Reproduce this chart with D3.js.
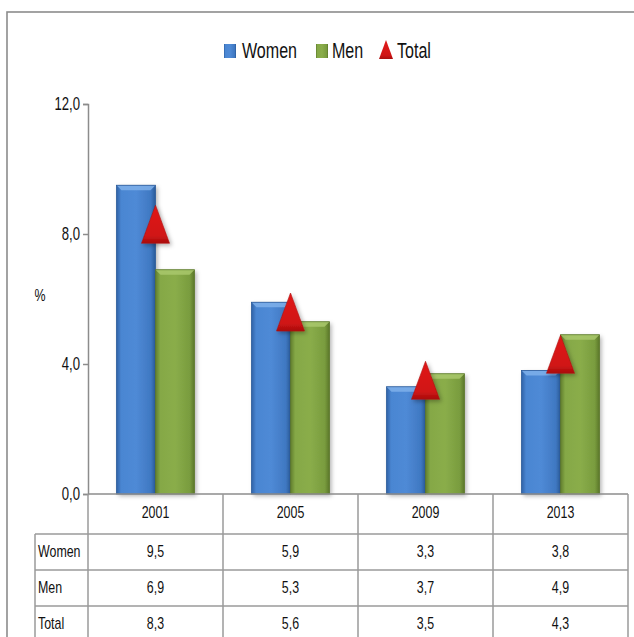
<!DOCTYPE html>
<html><head><meta charset="utf-8">
<script src="https://cdn.jsdelivr.net/npm/d3@7/dist/d3.min.js"></script>
<style>
html,body{margin:0;padding:0;background:#fff;}
text{font-family:"Liberation Sans",Arial,sans-serif;fill:#111;}
</style></head>
<body>
<svg id="c" width="634" height="637"></svg>
<script>
const years = ["2001","2005","2009","2013"];
const women = [9.5, 5.9, 3.3, 3.8];
const men = [6.9, 5.3, 3.7, 4.9];
const total = [8.3, 5.6, 3.5, 4.3];
const yTicks = [0, 4, 8, 12];
const seriesNames = ["Women","Men","Total"];

const svg = d3.select("#c");
const defs = svg.append("defs");
const SX = 0.73; // horizontal condensing to mimic a narrow font

function hgrad(id, stops){
  const g = defs.append("linearGradient").attr("id", id).attr("x1","0").attr("x2","1").attr("y1","0").attr("y2","0");
  stops.forEach(s=>g.append("stop").attr("offset", s[0]).attr("stop-color", s[1]));
}
hgrad("gBlue", [[0,"#2f62a6"],[0.12,"#4a86d2"],[0.5,"#4f8ad6"],[0.88,"#3f78c2"],[1,"#2a5a98"]]);
hgrad("gGreen", [[0,"#5f7d2c"],[0.12,"#85a846"],[0.5,"#8aad4a"],[0.88,"#799c3e"],[1,"#5a7629"]]);
const tg = defs.append("linearGradient").attr("id","gRed").attr("x1","0").attr("x2","0").attr("y1","0").attr("y2","1");
tg.append("stop").attr("offset",0).attr("stop-color","#e11a1a");
tg.append("stop").attr("offset",0.8).attr("stop-color","#d01414");
tg.append("stop").attr("offset",1).attr("stop-color","#a80e0e");
const f = defs.append("filter").attr("id","sh").attr("x","-20%").attr("y","-20%").attr("width","160%").attr("height","160%");
f.append("feDropShadow").attr("dx",2).attr("dy",2).attr("stdDeviation",2).attr("flood-color","#000").attr("flood-opacity",0.3);

svg.append("rect").attr("x",7).attr("y",12).attr("width",700).attr("height",700)
  .attr("fill","none").attr("stroke","#8c8c8c").attr("stroke-width",1.6);

const x = d3.scaleBand().domain(years).range([88, 628]);
const y = d3.scaleLinear().domain([0, 12]).range([494, 104]);
const bw = 39;

const yAxis = svg.append("g").attr("transform","translate(88,0)")
  .call(d3.axisLeft(y).tickValues(yTicks).tickSize(5).tickPadding(3)
    .tickFormat(d => d3.format(".1f")(d).replace(".", ",")));
yAxis.select(".domain").attr("stroke","#8c8c8c").attr("stroke-width",1.5);
yAxis.selectAll(".tick line").attr("stroke","#8c8c8c").attr("stroke-width",1.5);
yAxis.selectAll(".tick text").attr("font-size",18).attr("fill","#111")
  .style("font-family",'"Liberation Sans",Arial,sans-serif');

svg.append("text").attr("x",40).attr("y",297).attr("text-anchor","middle")
  .attr("dominant-baseline","middle").attr("font-size",17).text("%");

function bevelBar(g, x0, v, fillId, light, dark){
  const yt = y(v), h = y(0) - yt;
  const gg = g.append("g");
  gg.append("rect").attr("x",x0).attr("y",yt).attr("width",bw).attr("height",h)
    .attr("fill","url(#"+fillId+")").attr("filter","url(#sh)");
  const b = 5;
  gg.append("path").attr("d",`M${x0},${yt}L${x0+bw},${yt}L${x0+bw-b},${yt+b}L${x0+b},${yt+b}Z`)
    .attr("fill",light).attr("opacity",0.85);
  gg.append("rect").attr("x",x0).attr("y",yt).attr("width",bw).attr("height",h)
    .attr("fill","none").attr("stroke",dark).attr("stroke-width",0.8);
}

const bars = svg.append("g");
years.forEach((yr,i)=>{
  const c = x(yr) + x.bandwidth()/2;
  bevelBar(bars, c - bw, women[i], "gBlue", "#7fb0ea", "#2b5a99");
  bevelBar(bars, c, men[i], "gGreen", "#a9c86c", "#5b772a");
});
const tw = 28, th = 38;
svg.append("g").selectAll("path").data(years).join("path")
  .attr("d",(yr,i)=>{
    const c = x(yr) + x.bandwidth()/2, cy = y(total[i]);
    return `M${c},${cy-th/2}L${c+tw/2},${cy+th/2}L${c-tw/2},${cy+th/2}Z`;
  })
  .attr("fill","url(#gRed)").attr("stroke","#b01010").attr("stroke-width",0.6).attr("filter","url(#sh)");

svg.append("line").attr("x1",88).attr("x2",628).attr("y1",494).attr("y2",494)
  .attr("stroke","#8c8c8c").attr("stroke-width",1.5);

const rowTop = [534, 570, 606];
const rowH = 36;
const grid = svg.append("g").attr("stroke","#9a9a9a").attr("stroke-width",1.5);
rowTop.forEach(yy=>grid.append("line").attr("x1",35).attr("x2",628).attr("y1",yy).attr("y2",yy));
grid.append("line").attr("x1",35).attr("x2",35).attr("y1",534).attr("y2",640);
const colEdges = years.map(yr=>x(yr)).concat([628]);
colEdges.forEach(xx=>grid.append("line").attr("x1",xx).attr("x2",xx).attr("y1",494).attr("y2",640));

svg.append("g").selectAll("text").data(years).join("text")
  .attr("x",yr=>x(yr)+x.bandwidth()/2).attr("y",514).attr("text-anchor","middle")
  .attr("dominant-baseline","middle").attr("font-size",17).text(d=>d);

const tableVals = [women, men, total];
seriesNames.forEach((name,r)=>{
  const cy = rowTop[r] + rowH/2 + 1;
  svg.append("text").attr("x",38).attr("y",cy).attr("dominant-baseline","middle")
    .attr("font-size",17).text(name);
  svg.append("g").selectAll("text").data(years).join("text")
    .attr("x",yr=>x(yr)+x.bandwidth()/2).attr("y",cy).attr("text-anchor","middle")
    .attr("dominant-baseline","middle").attr("font-size",17)
    .text((yr,i)=>d3.format(".1f")(tableVals[r][i]).replace(".", ","));
});

const lg = svg.append("g");
const lgItems = [
  {name:seriesNames[0], type:"rect", fill:"url(#gBlue)", sx:224, tx:242},
  {name:seriesNames[1], type:"rect", fill:"url(#gGreen)", sx:316, tx:332},
  {name:seriesNames[2], type:"tri", fill:"url(#gRed)", sx:379, tx:397}
];
lgItems.forEach(it=>{
  if(it.type==="rect"){
    lg.append("rect").attr("x",it.sx).attr("y",44).attr("width",12).attr("height",14).attr("fill",it.fill);
  } else {
    lg.append("path").attr("d",`M${it.sx+7},40L${it.sx+14},59L${it.sx},59Z`).attr("fill",it.fill);
  }
  lg.append("text").attr("x",it.tx).attr("y",58.5).attr("font-size",22).text(it.name);
});

svg.selectAll("text").each(function(){
  const t = d3.select(this);
  let ax = +t.attr("x") || 0;
  const prev = t.attr("transform") || "";
  t.attr("transform", `${prev} translate(${ax},0) scale(${SX},1) translate(${-ax},0)`);
});
</script>
</body></html>
